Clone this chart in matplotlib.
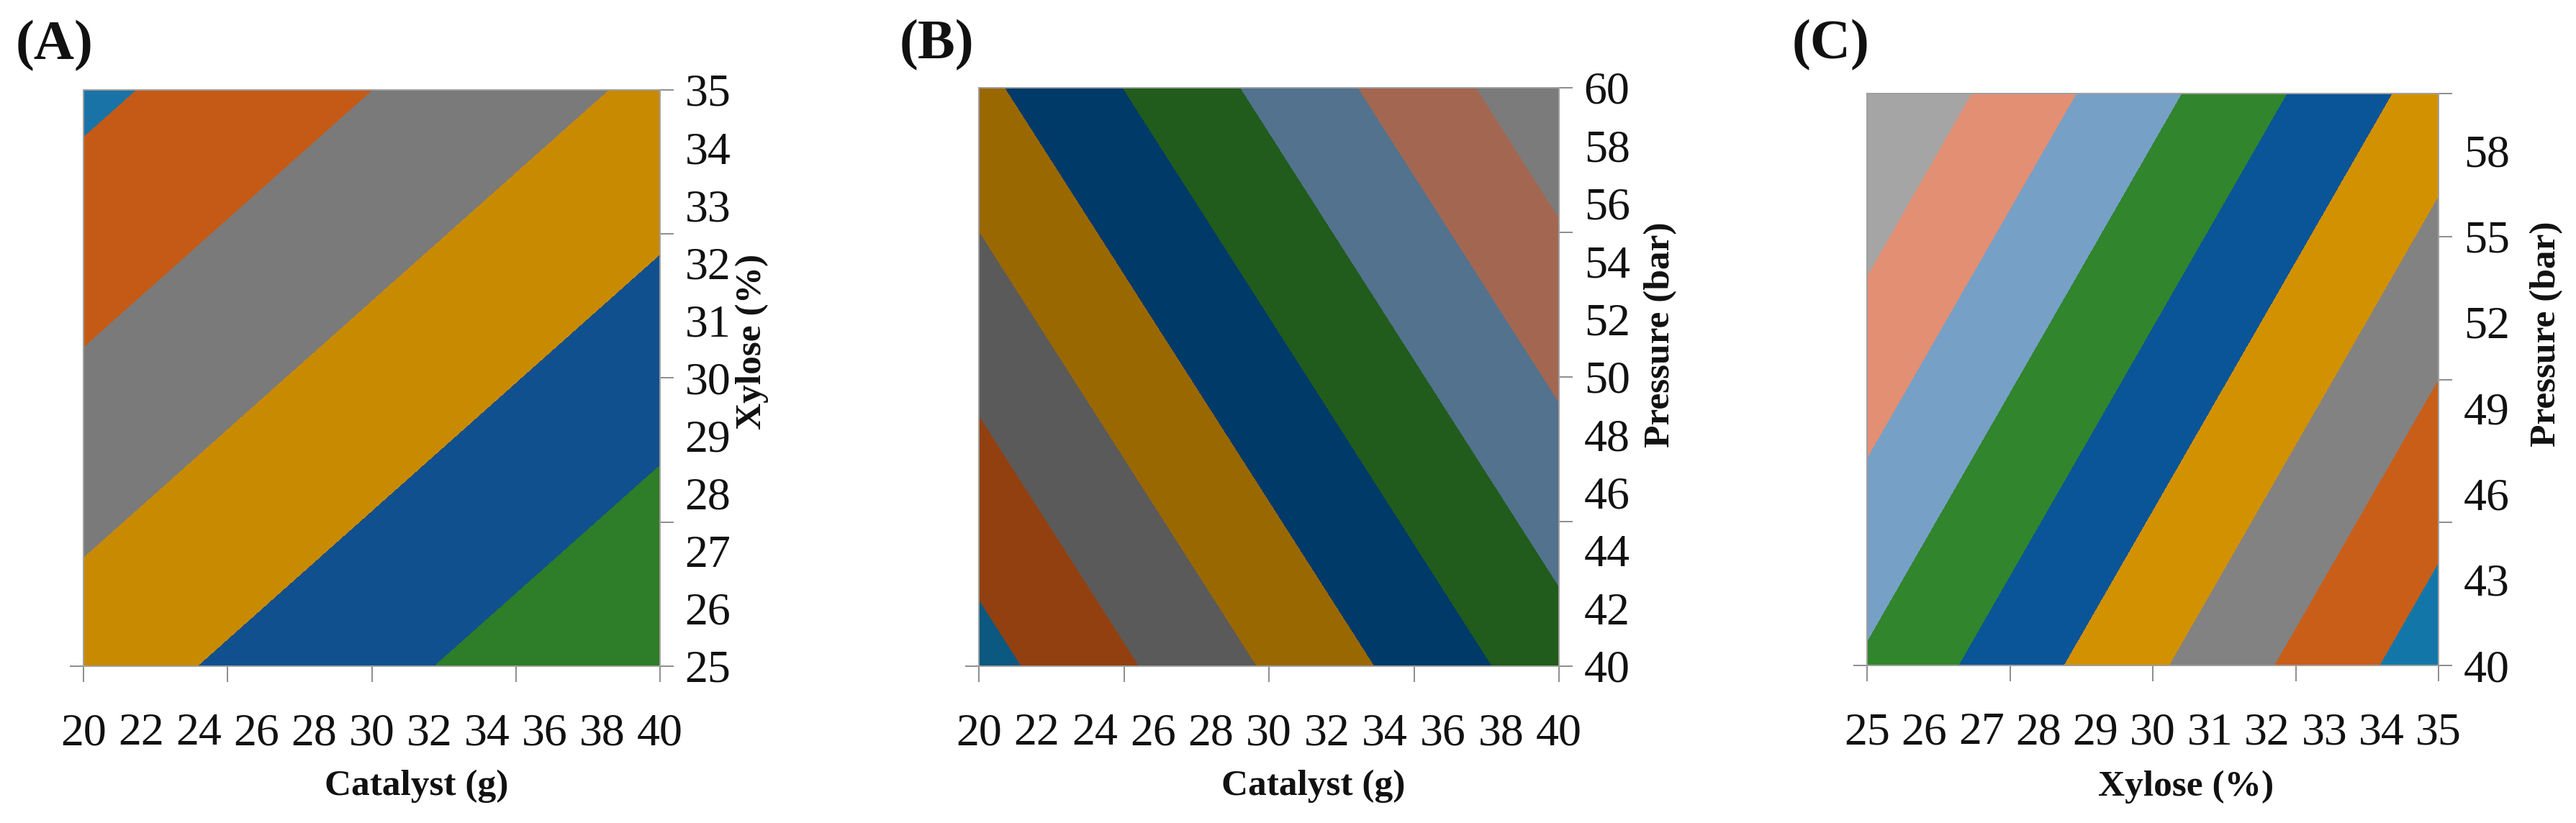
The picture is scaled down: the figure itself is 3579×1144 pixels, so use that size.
import matplotlib
matplotlib.use('Agg')
import matplotlib.pyplot as plt
from matplotlib.ticker import FixedLocator, FixedFormatter, NullFormatter, NullLocator

plt.rcParams['font.family'] = ['Liberation Serif', 'DejaVu Serif']

# ---------------- data ----------------
levels = [0, 10, 20, 30, 40, 50, 60, 70, 80, 90]

catalyst = [20, 40]          # g
xylose = [25, 35]            # %
pressure = [40, 60]          # bar

# response at grid corners, rows = y value, columns = x value
z_A = [[35.1, 59.5],         # xylose 25 : catalyst 20, 40
       [7.7, 32.1]]          # xylose 35
z_B = [[6.3, 55.6],          # pressure 40 : catalyst 20, 40
       [37.7, 87.0]]         # pressure 60
z_C = [[58.6, 4.3],          # pressure 40 : xylose 25, 35
       [89.8, 35.5]]         # pressure 60

colors_A = ['#1a73a6', '#c45a16', '#7a7a7a', '#c88a00', '#10508e', '#2e7d28',
            '#76a0c6', '#e28f74', '#a5a5a5']
colors_B = ['#0b5880', '#934010', '#5a5a5a', '#9a6800', '#003a69', '#215c1c',
            '#52728d', '#a36751', '#7b7b7b']
colors_C = ['#1277a8', '#c95e18', '#828282', '#d29100', '#095598', '#31852c',
            '#76a0c6', '#e28f74', '#a5a5a5']

xlabels_cat = [20, 22, 24, 26, 28, 30, 32, 34, 36, 38, 40]
xticks_cat = [20, 25, 30, 35, 40]
labels_xyl = [25, 26, 27, 28, 29, 30, 31, 32, 33, 34, 35]
ticks_xyl = [25, 27.5, 30, 32.5, 35]
ylabels_pB = [40, 42, 44, 46, 48, 50, 52, 54, 56, 58, 60]
ylabels_pC = [40, 43, 46, 49, 52, 55, 58]
ticks_p = [40, 45, 50, 55, 60]

panels = [
    dict(tag='(A)', tagx=22, tagy=64, rect=[116, 926, 801, 801],
         x=catalyst, y=xylose, z=z_A, colors=colors_A,
         xlab=xlabels_cat, xtk=xticks_cat, ylab=labels_xyl, ytk=ticks_xyl,
         xtitle='Catalyst (g)', ytitle='Xylose (%)',
         xlc=(0.578, -0.208), ylc=(1.160, 0.563)),
    dict(tag='(B)', tagx=1250, tagy=63, rect=[1360, 926, 806, 804],
         x=catalyst, y=pressure, z=z_B, colors=colors_B,
         xlab=xlabels_cat, xtk=xticks_cat, ylab=ylabels_pB, ytk=ticks_p,
         xtitle='Catalyst (g)', ytitle='Pressure (bar)',
         xlc=(0.576, -0.208), ylc=(1.175, 0.573)),
    dict(tag='(C)', tagx=2490, tagy=63, rect=[2594, 925, 794, 795],
         x=xylose, y=pressure, z=z_C, colors=colors_C,
         xlab=labels_xyl, xtk=ticks_xyl, ylab=ylabels_pC, ytk=ticks_p,
         xtitle='Xylose (%)', ytitle='Pressure (bar)',
         xlc=(0.558, -0.212), ylc=(1.189, 0.579)),
]

W, H = 3579, 1144
fig = plt.figure(figsize=(W / 100, H / 100), dpi=100)

tick_c = '#8c8c8c'
spine_c = '#a0a0a0'
txt_c = '#111111'

for p in panels:
    l, b, w, h = p['rect']
    ax = fig.add_axes([l / W, (H - b) / H, w / W, h / H])
    cs = ax.contourf(p['x'], p['y'], p['z'], levels=levels, colors=p['colors'])
    cs.set_edgecolor('face')
    cs.set_linewidth(1.0)
    ax.set_xlim(p['x'][0], p['x'][1])
    ax.set_ylim(p['y'][0], p['y'][1])

    for s in ax.spines.values():
        s.set_color(spine_c)
        s.set_linewidth(1.4)

    # x axis: tick marks (major) and labels (minor)
    ax.xaxis.remove_overlapping_locs = False
    ax.xaxis.set_major_locator(FixedLocator(p['xtk']))
    ax.xaxis.set_major_formatter(NullFormatter())
    ax.xaxis.set_minor_locator(FixedLocator(p['xlab']))
    ax.xaxis.set_minor_formatter(FixedFormatter([str(v) for v in p['xlab']]))
    ax.tick_params(axis='x', which='major', direction='out', length=16,
                   width=1.4, color=tick_c)
    ax.tick_params(axis='x', which='minor', length=0, pad=47,
                   labelsize=46, labelcolor=txt_c)

    # y axis on the right
    ax.yaxis.remove_overlapping_locs = False
    ax.yaxis.tick_right()
    ax.yaxis.set_major_locator(FixedLocator(p['ytk']))
    ax.yaxis.set_major_formatter(NullFormatter())
    ax.yaxis.set_minor_locator(FixedLocator(p['ylab']))
    ax.yaxis.set_minor_formatter(FixedFormatter([str(v) for v in p['ylab']]))
    ax.tick_params(axis='y', which='major', direction='out', length=14,
                   width=1.4, color=tick_c, right=True, left=False)
    ax.tick_params(axis='y', which='minor', length=0, pad=25, labelsize=46,
                   labelcolor=txt_c, right=True, left=False,
                   labelright=True, labelleft=False)

    # single left tick at the bottom corner
    sec = ax.secondary_yaxis('left')
    sec.set_yticks([p['y'][0]])
    sec.yaxis.set_minor_locator(NullLocator())
    sec.tick_params(axis='y', length=14, width=1.4, color=tick_c, labelleft=False)
    sec.spines['left'].set_color(spine_c)
    sec.spines['left'].set_linewidth(1.4)

    ax.set_xlabel(p['xtitle'], fontsize=37, fontweight='bold', color=txt_c,
                  va='center', ha='center')
    ax.xaxis.set_label_coords(*p['xlc'])
    ax.yaxis.set_label_position('right')
    ax.set_ylabel(p['ytitle'], fontsize=37, fontweight='bold', color=txt_c,
                  rotation=90, va='center', ha='center')
    ax.yaxis.set_label_coords(*p['ylc'])

    fig.text(p['tagx'] / W, 1 - p['tagy'] / H, p['tag'], fontsize=56,
             fontweight='bold', color=txt_c, ha='left', va='center')

fig.savefig('out.png', dpi=100, facecolor='white')
